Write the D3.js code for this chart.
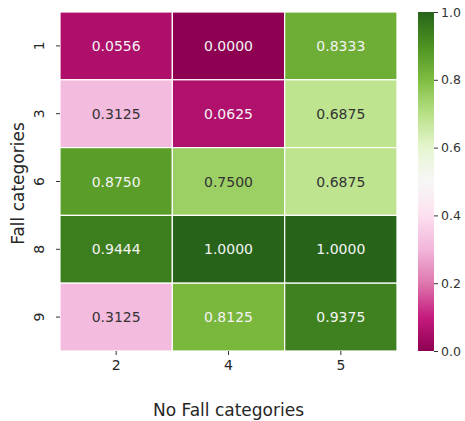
<!DOCTYPE html>
<html>
<head>
<meta charset="utf-8">
<script src="https://cdn.jsdelivr.net/npm/d3@7"></script>
<style>
body { margin: 0; background: #fff; }
text { font-family: "DejaVu Sans", sans-serif; }
</style>
</head>
<body>
<svg id="chart" width="465" height="421" viewBox="0 0 465 421"></svg>
<script>
const rowLabels = ["1", "3", "6", "8", "9"]
const colLabels = ["2", "4", "5"]
const values = [
    [0.0556, 0.0000, 0.8333],
    [0.3125, 0.0625, 0.6875],
    [0.8750, 0.7500, 0.6875],
    [0.9444, 1.0000, 1.0000],
    [0.3125, 0.8125, 0.9375]
]
const cbTicks = [0, 0.2, 0.4, 0.6, 0.8, 1.0]

const svg = d3.select("#chart")

// matplotlib PiYG = linear pieces through the brewer colours
const piyg = ["#8e0152", "#c51b7d", "#de77ae", "#f1b6da", "#fde0ef", "#f7f7f7",
    "#e6f5d0", "#b8e186", "#7fbc41", "#4d9221", "#276419"]
const interp = d3.piecewise(d3.interpolateRgb, piyg)
const color = v => interp(v)

const textColor = (c) => {
    const rgb = d3.rgb(c)
    const lin = [rgb.r, rgb.g, rgb.b].map(x => {
        x = x / 255
        return x <= 0.03928 ? x / 12.92 : Math.pow((x + 0.055) / 1.055, 2.4)
    })
    const lum = 0.2126 * lin[0] + 0.7152 * lin[1] + 0.0722 * lin[2]
    return lum < 0.408 ? "#f4f4f4" : "#333333"
}

const mLeft = 60, mRight = 397, mTop = 12, mBottom = 351

const x = d3.scaleBand().domain(colLabels).range([mLeft, mRight])
const y = d3.scaleBand().domain(rowLabels).range([mTop, mBottom])

const cells = []
values.forEach((row, i) => row.forEach((v, j) => cells.push({ r: rowLabels[i], c: colLabels[j], v: v })))

const g = svg.append("g")
g.selectAll("rect")
    .data(cells)
    .enter()
    .append("rect")
    .attr("x", d => x(d.c))
    .attr("y", d => y(d.r))
    .attr("width", x.bandwidth())
    .attr("height", y.bandwidth())
    .attr("fill", d => color(d.v))
    .attr("stroke", "#ffffff")
    .attr("stroke-width", 1.2)

g.selectAll("text")
    .data(cells)
    .enter()
    .append("text")
    .attr("x", d => x(d.c) + x.bandwidth() / 2)
    .attr("y", d => y(d.r) + y.bandwidth() / 2)
    .attr("text-anchor", "middle")
    .attr("dominant-baseline", "central")
    .attr("font-size", 14)
    .attr("fill", d => textColor(color(d.v)))
    .text(d => d.v.toFixed(4))

// axes
const xAxis = svg.append("g")
    .attr("transform", `translate(0,${mBottom})`)
    .call(d3.axisBottom(x).tickSize(4).tickPadding(5))
xAxis.select(".domain").remove()
xAxis.selectAll("line").attr("stroke", "#333")
xAxis.selectAll("text").attr("font-size", 14).attr("fill", "#262626")
    .attr("font-family", "DejaVu Sans, sans-serif")

const yAxis = svg.append("g")
    .attr("transform", `translate(${mLeft},0)`)
    .call(d3.axisLeft(y).tickSize(4).tickPadding(6))
yAxis.select(".domain").remove()
yAxis.selectAll("line").attr("stroke", "#333")
yAxis.selectAll("text")
    .attr("font-size", 14).attr("fill", "#262626")
    .attr("font-family", "DejaVu Sans, sans-serif")
    .attr("text-anchor", "middle")
    .attr("dy", null)
    .attr("x", null)
    .attr("transform", "translate(-21,0) rotate(-90)")
    .attr("dominant-baseline", "central")

svg.append("text")
    .attr("x", (mLeft + mRight) / 2)
    .attr("y", 416)
    .attr("text-anchor", "middle")
    .attr("font-size", 17)
    .attr("fill", "#262626")
    .text("No Fall categories")

svg.append("text")
    .attr("transform", `translate(18,${(mTop + mBottom) / 2 + 2}) rotate(-90)`)
    .attr("text-anchor", "middle")
    .attr("dominant-baseline", "central")
    .attr("font-size", 17)
    .attr("fill", "#262626")
    .text("Fall categories")

// colorbar
const cbX = 418, cbW = 16
const cbScale = d3.scaleLinear().domain([0, 1]).range([mBottom, mTop])
const defs = svg.append("defs")
const grad = defs.append("linearGradient")
    .attr("id", "cbgrad")
    .attr("x1", 0).attr("y1", 1).attr("x2", 0).attr("y2", 0)
d3.range(0, 1.0001, 0.05).forEach(t => {
    grad.append("stop").attr("offset", t).attr("stop-color", color(t))
})
svg.append("rect")
    .attr("x", cbX)
    .attr("y", mTop)
    .attr("width", cbW)
    .attr("height", mBottom - mTop)
    .attr("fill", "url(#cbgrad)")

const cbAxis = svg.append("g")
    .attr("transform", `translate(${cbX + cbW},0)`)
    .call(d3.axisRight(cbScale).tickValues(cbTicks).tickFormat(d3.format(".1f")).tickSize(4).tickPadding(3))
cbAxis.select(".domain").remove()
cbAxis.selectAll("line").attr("stroke", "#333")
cbAxis.selectAll("text").attr("font-size", 12.5).attr("fill", "#333")
    .attr("font-family", "DejaVu Sans, sans-serif")
</script>
</body>
</html>
